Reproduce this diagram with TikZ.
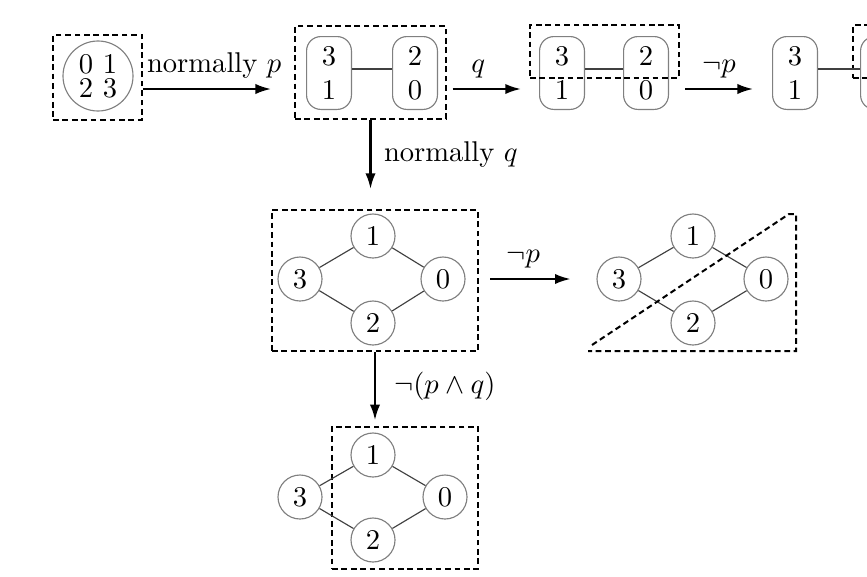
\documentclass[tikz,border=0pt]{standalone}
\usepackage{tikz}
\usetikzlibrary{arrows.meta}
\usetikzlibrary{fit}
\usetikzlibrary{positioning}
\tikzstyle{world} = [circle, draw=gray, inner sep=0pt, minimum size=15.4pt]
\tikzstyle{cluster} = [rectangle, rounded corners=5pt, draw=gray, inner sep=0pt,
        minimum width=15.7pt, minimum height=25.5pt, align=center]
\tikzstyle{frame} = [draw, line width=0.7pt, dash pattern=on 2pt off 1.3pt]
\tikzstyle{box} = [frame, inner sep=0pt]
\tikzstyle{link} = [draw=black!75, line width=0.4pt]
\tikzstyle{update} = [-{Latex[length=5.5pt, width=3.6pt]}, line width=0.8pt]

\begin{document}
\begin{tikzpicture}[x=0.35pt, y=-0.35pt]
    \useasboundingbox (0,0) rectangle (867,576);
    \clip (0,0) rectangle (867,576);
    \coordinate (row) at (0,89);

    \node[world, minimum size=24.5pt, align=center] (all) at (98,76) {0 1\\[-3.6pt]2 3};
    \node[box, fit={(53,35) (142,120)}] (f1) {};

    \node[cluster] (a3) at (329,73) {3\\1};
    \node[cluster] (a2) at (415,73) {2\\0};
    \node[box, fit={(295,26) (446,119)}] (f2) {};
    \draw[link] ([yshift=1.4pt]a3.east) -- ([yshift=1.4pt]a2.west);

    \node[cluster] (b3) at (562,73) {3\\1};
    \node[cluster] (b2) at (646,73) {2\\0};
    \node[box, fit={(530,25) (679,78)}] (f3) {};
    \draw[link] ([yshift=1.4pt]b3.east) -- ([yshift=1.4pt]b2.west);

    \node[cluster] (c3) at (795,73) {3\\1};
    \node[cluster] (c2) at (883,73) {};
    \node[box, fit={(853,25) (1000,78)}] (f4) {};
    \draw[link] ([yshift=1.4pt]c3.east) -- ([yshift=1.4pt]c2.west);

    \node[world] (m1) at (373,236) {1};
    \node[world] (m3) at (300,279) {3};
    \node[world] (m0) at (443,279) {0};
    \node[world] (m2) at (373,323) {2};
    \node[box, fit={(272,210) (478,351)}] (f5) {};
    \draw[link] (m3) -- (m1) -- (m0) -- (m2) -- (m3);

    \node[world] (n1) at (693,236) {1};
    \node[world] (n3) at (619,279) {3};
    \node[world] (n0) at (766,279) {0};
    \node[world] (n2) at (693,323) {2};
    \draw[link] (n3) -- (n1) -- (n0) -- (n2) -- (n3);
    \draw[frame] (592,345) -- (789,214) -- (796,214) -- (796,351) -- (588,351);

    \node[world] (k1) at (373,455) {1};
    \node[world] (k3) at (300,497) {3};
    \node[world] (k0) at (445,497) {0};
    \node[world] (k2) at (373,540) {2};
    \node[box, fit={(332,427) (478,569)}] (f7) {};
    \draw[link] (k3) -- (k1) -- (k0) -- (k2) -- (k3);

    \draw[update] (f1.east |- row) -- ([xshift=-8pt]f2.west |- row)
        node[midway, above, xshift=2.5pt] {normally $p$};
    \draw[update] ([xshift=2pt]f2.east |- row) -- ([xshift=-2.8pt]f3.west |- row)
        node[midway, above, xshift=-3pt] {$q$};
    \draw[update] ([xshift=1.8pt]f3.east |- row) -- ([xshift=-6.6pt]c3.west |- row)
        node[midway, above] {$\neg p$};
    \draw[update] (f2.south) -- ([yshift=7pt]f2.south |- f5.north)
        node[midway, right, xshift=1pt] {normally $q$};
    \draw[update] ([xshift=3.9pt]m0 -| f5.east) -- ([xshift=-9pt]n3.west)
        node[midway, above, xshift=-2.5pt] {$\neg p$};
    \draw[update] (f5.south) -- ([yshift=2pt]f5.south |- f7.north)
        node[midway, right, xshift=3pt] {$\neg(p\wedge q)$};
\end{tikzpicture}
\end{document}
